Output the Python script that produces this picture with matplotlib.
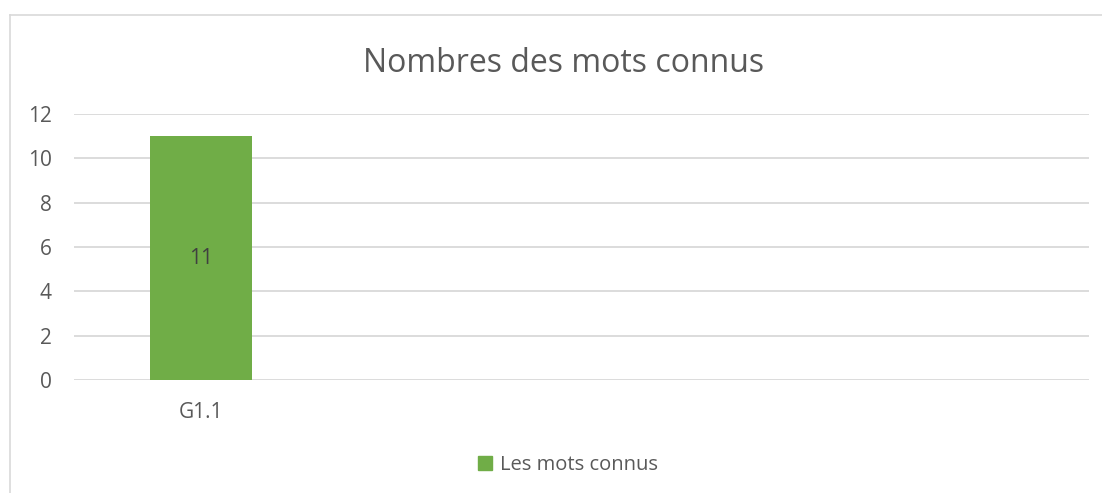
import matplotlib
matplotlib.use("Agg")
import matplotlib.pyplot as plt
from matplotlib.lines import Line2D
import numpy as np

categories = ["G1.1", "", "", ""]
values = [11, np.nan, np.nan, np.nan]
series_name = "Les mots connus"
title = "Nombres des mots connus"
yticks = [0, 2, 4, 6, 8, 10, 12]

plt.rcParams['font.family'] = ['Open Sans', 'DejaVu Sans']
txt = "#595959"
grid = "#d9d9d9"
green = "#70ad47"

fig = plt.figure(figsize=(11.02, 4.93), dpi=100)
W, H = 1102, 493
ax = fig.add_axes([74 / W, 1 - 380 / H, (1089 - 74) / W, (380 - 114) / H])

x = np.arange(len(categories))
bars = ax.bar(x, values, width=0.4, color=green, label=series_name, zorder=3)
for xi, v in zip(x, values):
    if not np.isnan(v):
        ax.text(xi, v / 2, f"{int(v)}", ha="center", va="center", color="#404040", fontsize=15)

ax.set_xlim(-0.5, len(categories) - 0.5)
ax.set_ylim(0, 12)
ax.set_yticks(yticks)
ax.set_xticks(x)
ax.set_xticklabels(categories)
ax.tick_params(axis="both", length=0, colors=txt, labelsize=15)
ax.tick_params(axis="y", pad=16)
ax.tick_params(axis="x", pad=16)
for s in ax.spines.values():
    s.set_visible(False)
ax.grid(axis="y", color=grid, linewidth=1.3, zorder=0)
ax.set_axisbelow(True)

fig.text(564 / W, 1 - 63 / H, title, ha="center", va="center", fontsize=23, color=txt)

leg = fig.legend(handles=[plt.Rectangle((0, 0), 1, 1, color=green)], labels=[series_name],
                 loc="center", bbox_to_anchor=(568 / W, 1 - 465 / H), frameon=False,
                 fontsize=14.5, handlelength=0.65, handleheight=0.65, handletextpad=0.4)
for t in leg.get_texts():
    t.set_color(txt)

fig.add_artist(Line2D([10 / W, 10 / W], [0, 1 - 15 / H], color=grid, linewidth=1.2, transform=fig.transFigure))
fig.add_artist(Line2D([10 / W, 1], [1 - 15 / H, 1 - 15 / H], color=grid, linewidth=1.2, transform=fig.transFigure))

fig.savefig("out.png", dpi=100)
